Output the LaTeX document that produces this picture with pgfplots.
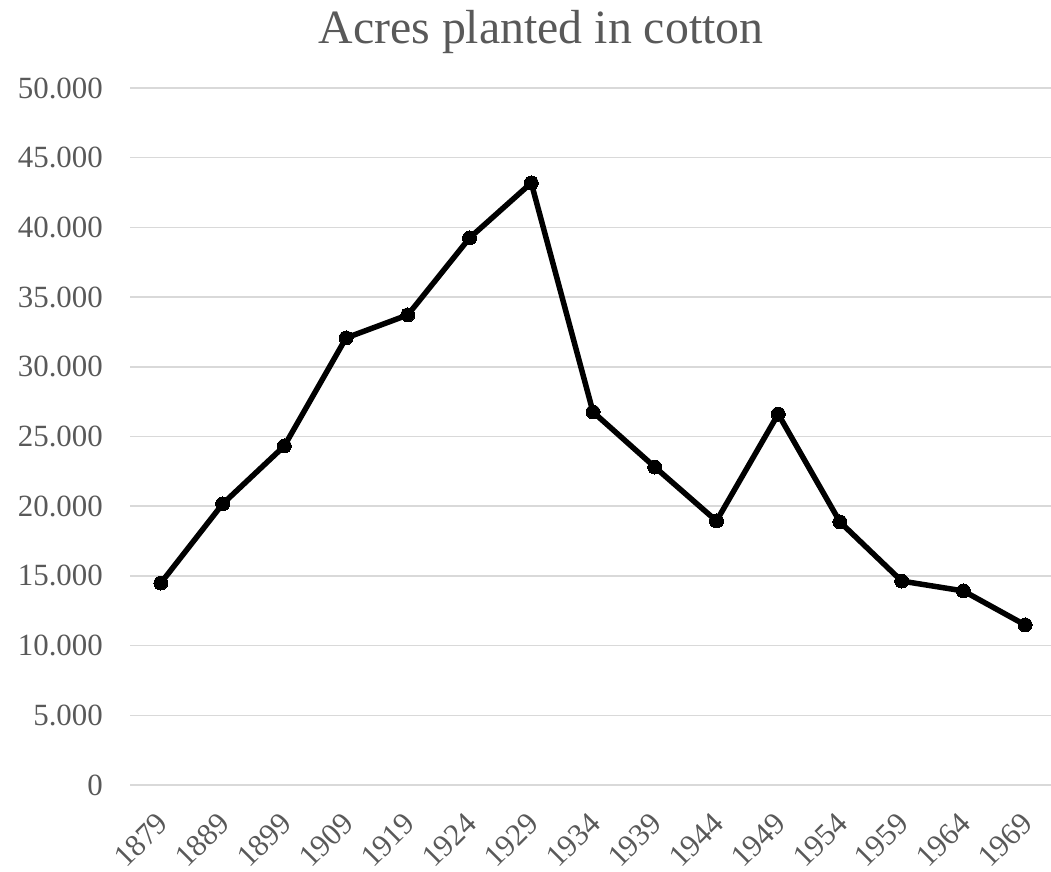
\documentclass[border=0pt]{standalone}
\usepackage{pgfplots}
\pgfplotsset{compat=1.18}
\usepackage{fontspec}
\setmainfont{Liberation Serif}
\definecolor{txt}{RGB}{89,89,89}
\definecolor{gridc}{RGB}{217,217,217}
\begin{document}
\begin{tikzpicture}[x=1bp,y=1bp]
\useasboundingbox (0,0) rectangle (1051,872);
\begin{axis}[at={(130bp,87bp)}, anchor=south west, scale only axis,
  width=926bp, height=697bp,
  xmin=-0.5, xmax=14.5, ymin=0, ymax=50000,
  ytick={0,5000,...,50000}, xtick={0,...,14},
  xticklabels={1879,1889,1899,1909,1919,1924,1929,1934,1939,1944,1949,1954,1959,1964,1969},
  axis line style={draw=none}, major tick length=0pt,
  ymajorgrids, grid style={gridc, line width=1.5bp},
  scaled y ticks=false, clip=false,
  tick label style={font=\fontsize{31}{31}\selectfont, text=txt, inner sep=0pt},
  yticklabel style={anchor=east, xshift=-27bp},
  xticklabel style={xshift=2bp, yshift=-33bp, rotate=45, anchor=east},
  /pgf/number format/.cd, 1000 sep={.}, assume math mode=true,
]
\addplot[black, line width=5.5bp, mark=*, mark size=7bp, mark options={fill=black, line width=0pt}] coordinates {
(0,14490) (1,20160) (2,24320) (3,32070) (4,33720) (5,39240) (6,43190) (7,26760)
(8,22810) (9,18940) (10,26610) (11,18870) (12,14630) (13,13920) (14,11480)
};
\end{axis}
\node[anchor=base, font=\fontsize{48}{48}\selectfont, text=txt] at (541,828) {Acres planted in cotton};
\end{tikzpicture}
\end{document}
